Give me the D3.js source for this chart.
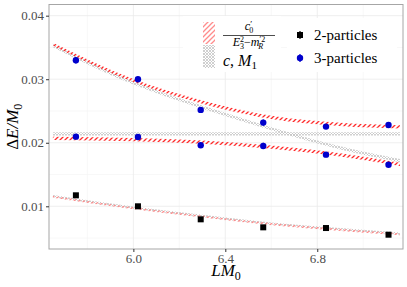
<!DOCTYPE html>
<html>
<head>
<meta charset="utf-8">
<style>
  body { margin: 0; background: #fff; }
  svg text { font-family: "Liberation Serif", "DejaVu Serif", serif; }
  .grid-major { stroke: #ebebeb; stroke-width: 0.8; }
  .grid-minor { stroke: #f4f4f4; stroke-width: 0.6; }
</style>
</head>
<body>
<div id="chart"></div>
<script src="https://cdn.jsdelivr.net/npm/d3@7"></script>
<script>
// ---- data ----
var lm = [5.75, 6.02, 6.293, 6.565, 6.838, 7.11];

var two = [0.01173, 0.0100, 0.00795, 0.00669, 0.00658, 0.00553];
var twoErr = [0.0002, 0.0002, 0.0002, 0.0002, 0.0002, 0.0002];

var threeUp = [0.03299, 0.0300, 0.02517, 0.02317, 0.02254, 0.0228];
var threeUpErr = [0.0005, 0.0004, 0.0003, 0.0005, 0.0003, 0.0003];
var threeLo = [0.02096, 0.0209, 0.0196, 0.0195, 0.01813, 0.01655];
var threeLoErr = [0.0003, 0.0003, 0.0004, 0.0005, 0.0004, 0.0003];

// fit bands (centre of each ribbon)
var bandX = [5.65, 6.0, 6.3, 6.6, 6.9, 7.16];
var redUp = [0.0355, 0.0298, 0.0264, 0.0240, 0.0229, 0.0225];
var grayUp = [0.0353, 0.0294, 0.0256, 0.0222, 0.0192, 0.0172];
var redLo = [0.0207, 0.0205, 0.0201, 0.0193, 0.0181, 0.0166];
var grayLo = [0.0214, 0.0214, 0.0214, 0.0214, 0.0214, 0.0214];
var redTwo = [0.0115, 0.0097, 0.0084, 0.0072, 0.0063, 0.0056];
var grayTwo = [0.0116, 0.0098, 0.0085, 0.0073, 0.0064, 0.0057];
var bandHalf = 0.00025;
var bandHalfTwo = 0.00017;

var xTicks = [6.0, 6.4, 6.8];
var xMinor = [5.8, 6.2, 6.6, 7.0];
var yTicks = [0.01, 0.02, 0.03, 0.04];
var yMinor = [0.005, 0.015, 0.025, 0.035];

var W = 407, H = 287;
var pLeft = 49, pRight = 403, pTop = 4.5, pBottom = 249;

var svg = d3.select("#chart").append("svg")
  .attr("width", W).attr("height", H);

var defs = svg.append("defs");
var red = defs.append("pattern").attr("id", "hatchRed")
  .attr("patternUnits", "userSpaceOnUse").attr("width", 5).attr("height", 5);
red.append("path").attr("d", "M-1,1 l2,-2 M0,5 l5,-5 M4,6 l2,-2")
  .attr("stroke", "#ff2a2a").attr("stroke-width", 1.3);
var gray = defs.append("pattern").attr("id", "hatchGray")
  .attr("patternUnits", "userSpaceOnUse").attr("width", 3).attr("height", 3);
gray.append("path").attr("d", "M0,3 l3,-3 M0,0 l3,3")
  .attr("stroke", "#c4c4c4").attr("stroke-width", 0.8);
var redKey = defs.append("pattern").attr("id", "hatchRedKey")
  .attr("patternUnits", "userSpaceOnUse").attr("width", 5).attr("height", 5);
redKey.append("path").attr("d", "M-1,1 l2,-2 M0,5 l5,-5 M4,6 l2,-2")
  .attr("stroke", "#ff8c8c").attr("stroke-width", 1.3);

var x = d3.scaleLinear().domain([5.633, 7.173]).range([pLeft, pRight]);
var y = d3.scaleLinear().domain([0.00328, 0.04176]).range([pBottom, pTop]);

// grid
var grid = svg.append("g");
grid.selectAll(".gx").data(xMinor).enter().append("line").attr("class", "grid-minor")
  .attr("x1", x).attr("x2", x).attr("y1", pTop).attr("y2", pBottom);
grid.selectAll(".gy").data(yMinor).enter().append("line").attr("class", "grid-minor")
  .attr("x1", pLeft).attr("x2", pRight).attr("y1", y).attr("y2", y);
grid.selectAll(".gX").data(xTicks).enter().append("line").attr("class", "grid-major")
  .attr("x1", x).attr("x2", x).attr("y1", pTop).attr("y2", pBottom);
grid.selectAll(".gY").data(yTicks).enter().append("line").attr("class", "grid-major")
  .attr("x1", pLeft).attr("x2", pRight).attr("y1", y).attr("y2", y);

// bands
function band(vals, fill, half) {
  var pts = bandX.map(function (d, i) { return [d, vals[i]]; });
  var area = d3.area()
    .x(function (d) { return x(d[0]); })
    .y0(function (d) { return y(d[1] - half); })
    .y1(function (d) { return y(d[1] + half); })
    .curve(d3.curveMonotoneX);
  svg.append("path").attr("d", area(pts)).attr("fill", fill);
}
band(grayUp, "url(#hatchGray)", bandHalf);
band(grayLo, "url(#hatchGray)", bandHalf);
band(grayTwo, "url(#hatchGray)", bandHalfTwo);
band(redUp, "url(#hatchRed)", bandHalf);
band(redLo, "url(#hatchRed)", bandHalf);
band(redTwo, "url(#hatchRedKey)", bandHalfTwo);

// points
function errbars(vals, errs, col) {
  svg.append("g").selectAll("line").data(vals).enter().append("line")
    .attr("x1", function (d, i) { return x(lm[i]); })
    .attr("x2", function (d, i) { return x(lm[i]); })
    .attr("y1", function (d, i) { return y(d - errs[i]); })
    .attr("y2", function (d, i) { return y(d + errs[i]); })
    .attr("stroke", col).attr("stroke-width", 1.2);
}
errbars(two, twoErr, "#000");
errbars(threeUp, threeUpErr, "#0000cc");
errbars(threeLo, threeLoErr, "#0000cc");

svg.append("g").selectAll("rect").data(two).enter().append("rect")
  .attr("x", function (d, i) { return x(lm[i]) - 3; })
  .attr("y", function (d) { return y(d) - 3; })
  .attr("width", 6).attr("height", 6).attr("fill", "#000");

[threeUp, threeLo].forEach(function (s) {
  svg.append("g").selectAll("circle").data(s).enter().append("circle")
    .attr("cx", function (d, i) { return x(lm[i]); })
    .attr("cy", function (d) { return y(d); })
    .attr("r", 3.2).attr("fill", "#0000cc");
});

// panel border
svg.append("rect").attr("x", pLeft).attr("y", pTop)
  .attr("width", pRight - pLeft).attr("height", pBottom - pTop)
  .attr("fill", "none").attr("stroke", "#a6a6a6").attr("stroke-width", 1);

// axes
var xAxis = svg.append("g").attr("transform", "translate(0," + pBottom + ")")
  .call(d3.axisBottom(x).tickValues(xTicks).tickSize(3).tickFormat(d3.format(".1f")));
var yAxis = svg.append("g").attr("transform", "translate(" + pLeft + ",0)")
  .call(d3.axisLeft(y).tickValues(yTicks).tickSize(3).tickFormat(d3.format(".2f")));
[xAxis, yAxis].forEach(function (a) {
  a.attr("font-family", null).attr("font-size", null);
  a.select(".domain").remove();
  a.selectAll(".tick line").attr("stroke", "#333");
  a.selectAll(".tick text").attr("fill", "#4d4d4d")
    .style("font-family", "'Liberation Serif', serif").style("font-size", "13px");
});
xAxis.selectAll(".tick text").attr("dy", "0.71em").attr("y", 5);
yAxis.selectAll(".tick text").attr("x", -5);

// axis titles
var xt = svg.append("text").attr("x", (pLeft + pRight) / 2).attr("y", 276)
  .attr("text-anchor", "middle").style("font-size", "17px").style("font-style", "italic");
xt.append("tspan").text("LM");
xt.append("tspan").text("0").style("font-style", "normal").style("font-size", "12px").attr("dy", 4);

var yt = svg.append("text")
  .attr("transform", "translate(18," + (pTop + pBottom) / 2 + ") rotate(-90)")
  .attr("text-anchor", "middle").style("font-size", "17px").style("font-style", "italic");
yt.append("tspan").text("Δ").style("font-style", "normal");
yt.append("tspan").text("E/M");
yt.append("tspan").text("0").style("font-style", "normal").style("font-size", "12px").attr("dy", 4);

// legend 1 (bands)
var lg1 = svg.append("g");
lg1.append("rect").attr("x", 183).attr("y", 16).attr("width", 98).attr("height", 56).attr("fill", "#fff");
lg1.append("rect").attr("x", 203).attr("y", 22).attr("width", 12).attr("height", 22).attr("fill", "url(#hatchRedKey)");
lg1.append("rect").attr("x", 203).attr("y", 45).attr("width", 12).attr("height", 23).attr("fill", "url(#hatchGray)");
var num = lg1.append("text").attr("x", 249).attr("y", 30).attr("text-anchor", "middle")
  .style("font-size", "12px").style("font-style", "italic");
num.append("tspan").text("c");
num.append("tspan").text("′").style("font-style", "normal").attr("dy", -3).style("font-size", "9px");
num.append("tspan").text("0").style("font-style", "normal").attr("dy", 6).attr("dx", -3).style("font-size", "8px");
lg1.append("line").attr("x1", 223).attr("x2", 275).attr("y1", 35.5).attr("y2", 35.5)
  .attr("stroke", "#000").attr("stroke-width", 0.7);
var den = lg1.append("text").attr("x", 249).attr("y", 46).attr("text-anchor", "middle")
  .style("font-size", "12px").style("font-style", "italic");
den.append("tspan").text("E");
den.append("tspan").text("2").style("font-style", "normal").style("font-size", "8px").attr("dy", -4);
den.append("tspan").text("3").style("font-style", "normal").style("font-size", "8px").attr("dy", 7).attr("dx", -4);
den.append("tspan").text("−").style("font-style", "normal").attr("dy", -3);
den.append("tspan").text("m");
den.append("tspan").text("′2").style("font-style", "normal").style("font-size", "8px").attr("dy", -4);
den.append("tspan").text("R").style("font-size", "8px").attr("dy", 7).attr("dx", -7);
var cl = lg1.append("text").attr("x", 223).attr("y", 66).style("font-size", "16px").style("font-style", "italic");
cl.append("tspan").text("c");
cl.append("tspan").text(", ").style("font-style", "normal");
cl.append("tspan").text("M");
cl.append("tspan").text("1").style("font-style", "normal").style("font-size", "11px").attr("dy", 3);

// legend 2 (points)
var lg2 = svg.append("g");
lg2.append("rect").attr("x", 287).attr("y", 18).attr("width", 110).attr("height", 54).attr("fill", "#fff");
lg2.append("line").attr("x1", 300).attr("x2", 300).attr("y1", 31).attr("y2", 39).attr("stroke", "#000").attr("stroke-width", 1.2);
lg2.append("rect").attr("x", 297).attr("y", 32).attr("width", 6).attr("height", 6).attr("fill", "#000");
lg2.append("line").attr("x1", 300).attr("x2", 300).attr("y1", 54).attr("y2", 62).attr("stroke", "#0000cc").attr("stroke-width", 1.2);
lg2.append("circle").attr("cx", 300).attr("cy", 58).attr("r", 3.2).attr("fill", "#0000cc");
lg2.append("text").attr("x", 314).attr("y", 40).style("font-size", "15px").text("2-particles");
lg2.append("text").attr("x", 314).attr("y", 63).style("font-size", "15px").text("3-particles");
</script>
</body>
</html>
